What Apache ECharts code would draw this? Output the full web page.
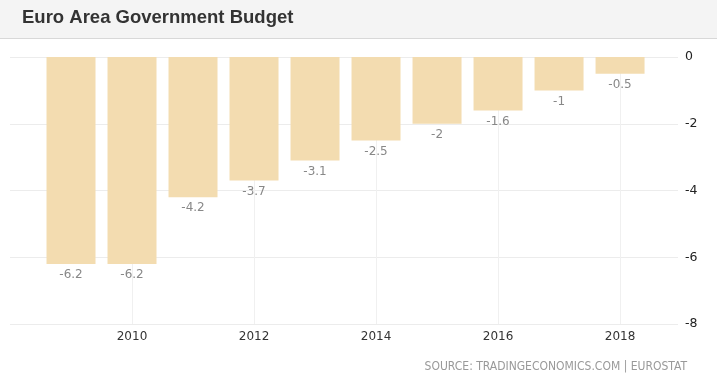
<!DOCTYPE html>
<html>
<head>
<meta charset="utf-8">
<script src="https://cdn.jsdelivr.net/npm/echarts@6/dist/echarts.min.js"></script>
<style>html,body{margin:0;padding:0;background:#fff}#c{width:717px;height:382px}</style>
</head>
<body>
<div id="c"></div>
<script>
const years = [2009, 2010, 2011, 2012, 2013, 2014, 2015, 2016, 2017, 2018];
const values = [-6.2, -6.2, -4.2, -3.7, -3.1, -2.5, -2, -1.6, -1, -0.5];
const yTicks = [0, -2, -4, -6, -8];
const titleText = 'Euro Area Government Budget';
const sourceText = 'SOURCE: TRADINGECONOMICS.COM | EUROSTAT';

const chart = echarts.init(document.getElementById('c'));
chart.setOption({
  animation: false,
  backgroundColor: '#fff',
  graphic: [
    { type: 'rect', shape: { x: 0, y: 0, width: 717, height: 38 }, style: { fill: '#f4f4f4' }, z: -1 },
    { type: 'rect', shape: { x: 0, y: 38, width: 717, height: 1 }, style: { fill: '#d8d8d8' }, z: -1 },
    { type: 'text', left: 22, top: 8, style: { text: titleText, font: 'bold 18.5px "Liberation Sans", Arial, sans-serif', fill: '#333' } },
    { type: 'text', right: 30, top: 361, style: { text: sourceText, font: '12px "DejaVu Sans Condensed", "DejaVu Sans", sans-serif', fill: '#999' } }
  ],
  grid: { left: 10, right: 39, top: 57, bottom: 58 },
  xAxis: {
    type: 'value',
    min: 2008,
    max: 2018.95,
    interval: 2,
    axisLine: { show: false },
    axisTick: { show: false },
    axisLabel: {
      showMinLabel: false, showMaxLabel: false,
      color: '#333', fontSize: 12, fontFamily: '"DejaVu Sans", sans-serif', margin: 7,
      formatter: v => String(v)
    },
    splitLine: { show: true, showMinLine: false, showMaxLine: false, lineStyle: { color: '#f0f0f0' } }
  },
  yAxis: {
    type: 'value',
    position: 'right',
    min: -8, max: 0, interval: 2,
    axisLine: { show: false },
    axisTick: { show: false },
    axisLabel: { color: '#222', fontSize: 12.5, fontFamily: '"DejaVu Sans", sans-serif', margin: 7,
      formatter: v => yTicks.includes(v) ? String(v) : '' },
    splitLine: { show: true, lineStyle: { color: '#ececec' } }
  },
  series: [{
    type: 'bar',
    data: years.map((y, i) => [y, values[i]]),
    barWidth: 49,
    itemStyle: { color: '#f3dcb0' },
    label: {
      show: true, position: 'bottom', distance: 5,
      color: '#888', fontSize: 12, fontFamily: '"DejaVu Sans", sans-serif',
      formatter: p => String(p.value[1])
    }
  }]
});
</script>
</body>
</html>
